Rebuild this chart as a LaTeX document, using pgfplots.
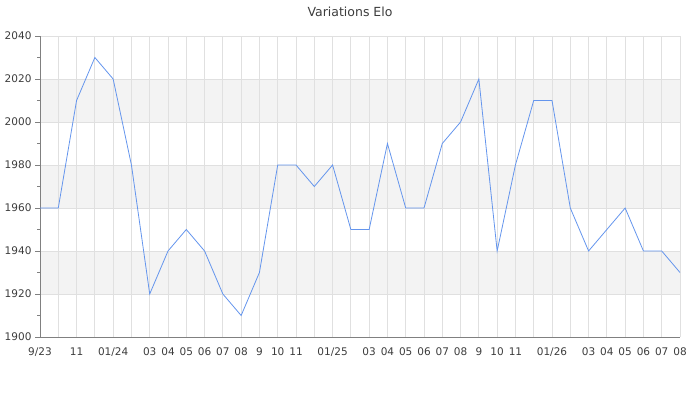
\documentclass[border=0pt]{standalone}
\usepackage{fontspec}
\setmainfont{DejaVu Sans}
\usepackage{pgfplots}
\pgfplotsset{compat=1.18}

\definecolor{band}{RGB}{243,243,243}
\definecolor{gridc}{RGB}{224,224,224}
\definecolor{axisc}{RGB}{128,128,128}
\definecolor{txt}{RGB}{60,60,60}
\definecolor{elo}{RGB}{100,149,237}

\begin{document}
\begin{tikzpicture}
\path (0pt,0pt) rectangle (700pt,400pt);
\node[font=\fontsize{12.5}{14}\selectfont, text=txt] at (350pt,388pt) {Variations Elo};
\begin{axis}[
    at={(40pt,63pt)}, anchor=south west,
    scale only axis, width=640pt, height=301pt,
    set layers=standard,
    xmin=0, xmax=35, ymin=1900, ymax=2040,
    axis x line=bottom, axis y line=left,
    axis line style={-, draw=axisc},
    xtick={0,...,35},
    xticklabels={9/23,,11,,01/24,,03,04,05,06,07,08,9,10,11,,01/25,,03,04,05,06,07,08,9,10,11,,01/26,,03,04,05,06,07,08},
    x tick style={draw=none},
    ytick={1900,1920,...,2040},
    minor y tick num=1,
    y tick style={draw=axisc},
    tick align=outside,
    major tick length=5pt, minor tick length=3pt,
    xmajorgrids, ymajorgrids,
    major grid style={draw=gridc, line width=0.8pt},
    ticklabel style={font=\fontsize{10.5}{12}\selectfont, text=txt},
    /pgf/number format/assume math mode=true,
    /pgf/number format/1000 sep={},
    xticklabel style={yshift=-2pt},
]
\addplot[on layer=axis background, draw=none, fill=band, forget plot] coordinates {(0,1920) (35,1920) (35,1940) (0,1940)} -- cycle;
\addplot[on layer=axis background, draw=none, fill=band, forget plot] coordinates {(0,1960) (35,1960) (35,1980) (0,1980)} -- cycle;
\addplot[on layer=axis background, draw=none, fill=band, forget plot] coordinates {(0,2000) (35,2000) (35,2020) (0,2020)} -- cycle;
\addplot[elo, line width=0.8pt, mark=none] coordinates {
(0,1960) (1,1960) (2,2010) (3,2030) (4,2020) (5,1980) (6,1920) (7,1940)
(8,1950) (9,1940) (10,1920) (11,1910) (12,1930) (13,1980) (14,1980) (15,1970)
(16,1980) (17,1950) (18,1950) (19,1990) (20,1960) (21,1960) (22,1990) (23,2000)
(24,2020) (25,1940) (26,1980) (27,2010) (28,2010) (29,1960) (30,1940) (31,1950)
(32,1960) (33,1940) (34,1940) (35,1930)
};
\end{axis}
\end{tikzpicture}
\end{document}
